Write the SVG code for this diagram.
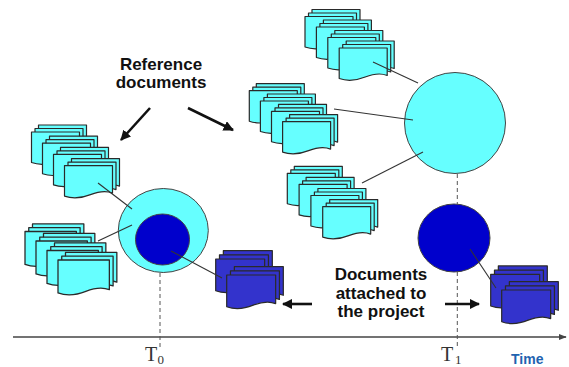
<svg xmlns="http://www.w3.org/2000/svg" xmlns:xlink="http://www.w3.org/1999/xlink" width="569" height="367" viewBox="0 0 569 367">
<style>
.sheet{stroke:#2a2a2a;stroke-width:1.2;stroke-linejoin:round}
.cy{fill:#66FFFF}
.bl{fill:#3333CC}
.circ{stroke:#444;stroke-width:1}
.conn{stroke:#333;stroke-width:1.1;fill:none}
.dash{stroke:#555;stroke-width:1;stroke-dasharray:4 3;fill:none}
.arr{stroke:#111;stroke-width:2.6;fill:none}
.lbl{font-family:"Liberation Sans",Arial,sans-serif;font-weight:bold;font-size:17px;fill:#111;text-anchor:middle}
.tl{font-family:"Liberation Serif","Times New Roman",serif;fill:#333}
</style>
<defs>
<path id="sheet" d="M0,0 H48 V27.5 C42,25 35,25.5 26,29 C16,33 7,33 0,30.5 Z"/>
<g id="iconC" class="cy">
<use xlink:href="#sheet" href="#sheet" class="sheet" x="7" y="-7"/>
<use xlink:href="#sheet" href="#sheet" class="sheet" x="3.5" y="-3.5"/>
<use xlink:href="#sheet" href="#sheet" class="sheet" x="0" y="0"/>
</g>
<g id="iconB" class="bl">
<use xlink:href="#sheet" href="#sheet" class="sheet" x="7.5" y="-8"/>
<use xlink:href="#sheet" href="#sheet" class="sheet" x="3.7" y="-4"/>
<use xlink:href="#sheet" href="#sheet" class="sheet" x="0" y="0"/>
</g>
<marker id="ah" viewBox="0 0 10 10" refX="9" refY="5" markerWidth="4" markerHeight="4" orient="auto" markerUnits="strokeWidth">
<path d="M0,0 L10,5 L0,10 Z" fill="#111"/>
</marker>
<marker id="axah" viewBox="0 0 10 10" refX="9" refY="5" markerWidth="6" markerHeight="6" orient="auto" markerUnits="strokeWidth">
<path d="M0,1 L10,5 L0,9 Z" fill="#444"/>
</marker>
</defs>
<rect width="569" height="367" fill="#fff"/>

<g id="axis">
<line x1="13" y1="337" x2="566" y2="337" stroke="#444" stroke-width="1.3" marker-end="url(#axah)"/>
<text class="tl" x="145" y="360.5" font-size="20">T</text>
<text class="tl" x="157.5" y="363.5" font-size="13">0</text>
<text class="tl" x="441" y="360.5" font-size="20">T</text>
<text class="tl" x="455" y="363.5" font-size="13">1</text>
<text x="511" y="364" font-family="Liberation Sans,Arial,sans-serif" font-weight="bold" font-size="14" fill="#1F63B0">Time</text>
</g>

<g id="timelines">
<line class="dash" x1="160" y1="273" x2="160" y2="347"/>
<line class="dash" x1="457.3" y1="174" x2="457.3" y2="204"/>
<line class="dash" x1="457.3" y1="272" x2="457.3" y2="347"/>
</g>

<g id="circle-t0">
<ellipse class="circ cy" cx="163.3" cy="230.5" rx="45" ry="42"/>
<ellipse class="circ" fill="#0000CC" cx="162.5" cy="239.5" rx="27" ry="25.5"/>
</g>
<g id="circle-t1">
<ellipse class="circ cy" cx="455" cy="123" rx="50.5" ry="50.5"/>
</g>
<g id="circle-t1-attached">
<ellipse class="circ" fill="#0000CC" cx="454" cy="238" rx="36" ry="34"/>
</g>

<g id="stack-a">
<use xlink:href="#iconC" href="#iconC" x="31.5" y="132"/>
<use xlink:href="#iconC" href="#iconC" x="42.5" y="143.2"/>
<use xlink:href="#iconC" href="#iconC" x="53.5" y="154.4"/>
<use xlink:href="#iconC" href="#iconC" x="64.5" y="165.6"/>
</g>
<g id="stack-b">
<use xlink:href="#iconC" href="#iconC" transform="translate(25,231.5) scale(1.07,1.08)"/>
<use xlink:href="#iconC" href="#iconC" transform="translate(36,241) scale(1.07,1.08)"/>
<use xlink:href="#iconC" href="#iconC" transform="translate(47,250.5) scale(1.07,1.08)"/>
<use xlink:href="#iconC" href="#iconC" transform="translate(58,260) scale(1.07,1.08)"/>
</g>
<g id="stack-c">
<use xlink:href="#iconC" href="#iconC" x="305" y="16.5"/>
<use xlink:href="#iconC" href="#iconC" x="316.4" y="27"/>
<use xlink:href="#iconC" href="#iconC" x="327.8" y="37.5"/>
<use xlink:href="#iconC" href="#iconC" x="339.2" y="48"/>
</g>
<g id="stack-d">
<use xlink:href="#iconC" href="#iconC" x="249.3" y="90.7"/>
<use xlink:href="#iconC" href="#iconC" x="260.4" y="101"/>
<use xlink:href="#iconC" href="#iconC" x="271.5" y="111.3"/>
<use xlink:href="#iconC" href="#iconC" x="282.6" y="121.6"/>
</g>
<g id="stack-e">
<use xlink:href="#iconC" href="#iconC" x="287.3" y="173.3"/>
<use xlink:href="#iconC" href="#iconC" x="299.1" y="184.4"/>
<use xlink:href="#iconC" href="#iconC" x="310.9" y="195.5"/>
<use xlink:href="#iconC" href="#iconC" x="322.7" y="206.6"/>
</g>
<g id="stack-f">
<use xlink:href="#iconB" href="#iconB" transform="translate(215.7,259) scale(1.02,1.04)"/>
<use xlink:href="#iconB" href="#iconB" transform="translate(226.7,275) scale(1.02,1.04)"/>
</g>
<g id="stack-g">
<use xlink:href="#iconB" href="#iconB" transform="translate(490.7,274.3) scale(1.02,1.04)"/>
<use xlink:href="#iconB" href="#iconB" transform="translate(501.7,290) scale(1.02,1.04)"/>
</g>

<g id="label-reference">
<text class="lbl" x="161" y="70">Reference</text>
<text class="lbl" x="161" y="88">documents</text>
</g>
<g id="label-attached">
<text class="lbl" x="381" y="280">Documents</text>
<text class="lbl" x="381" y="298.5">attached to</text>
<text class="lbl" x="381" y="316.5">the project</text>
</g>

<g id="connectors">
<line class="conn" x1="98" y1="183" x2="132" y2="209"/>
<line class="conn" x1="98" y1="241" x2="132" y2="225"/>
<line class="conn" x1="171" y1="251" x2="222" y2="278"/>
<line class="conn" x1="373" y1="62" x2="418" y2="83"/>
<line class="conn" x1="334" y1="109" x2="413" y2="120"/>
<line class="conn" x1="362" y1="183" x2="423" y2="152"/>
<line class="conn" x1="470" y1="249" x2="496" y2="288"/>
<line class="arr" x1="150" y1="108" x2="121" y2="140" marker-end="url(#ah)"/>
<line class="arr" x1="188" y1="108" x2="233" y2="130" marker-end="url(#ah)"/>
<line class="arr" x1="312" y1="304" x2="283" y2="304" marker-end="url(#ah)"/>
<line class="arr" x1="445" y1="304" x2="479" y2="304" marker-end="url(#ah)"/>
</g>
</svg>
